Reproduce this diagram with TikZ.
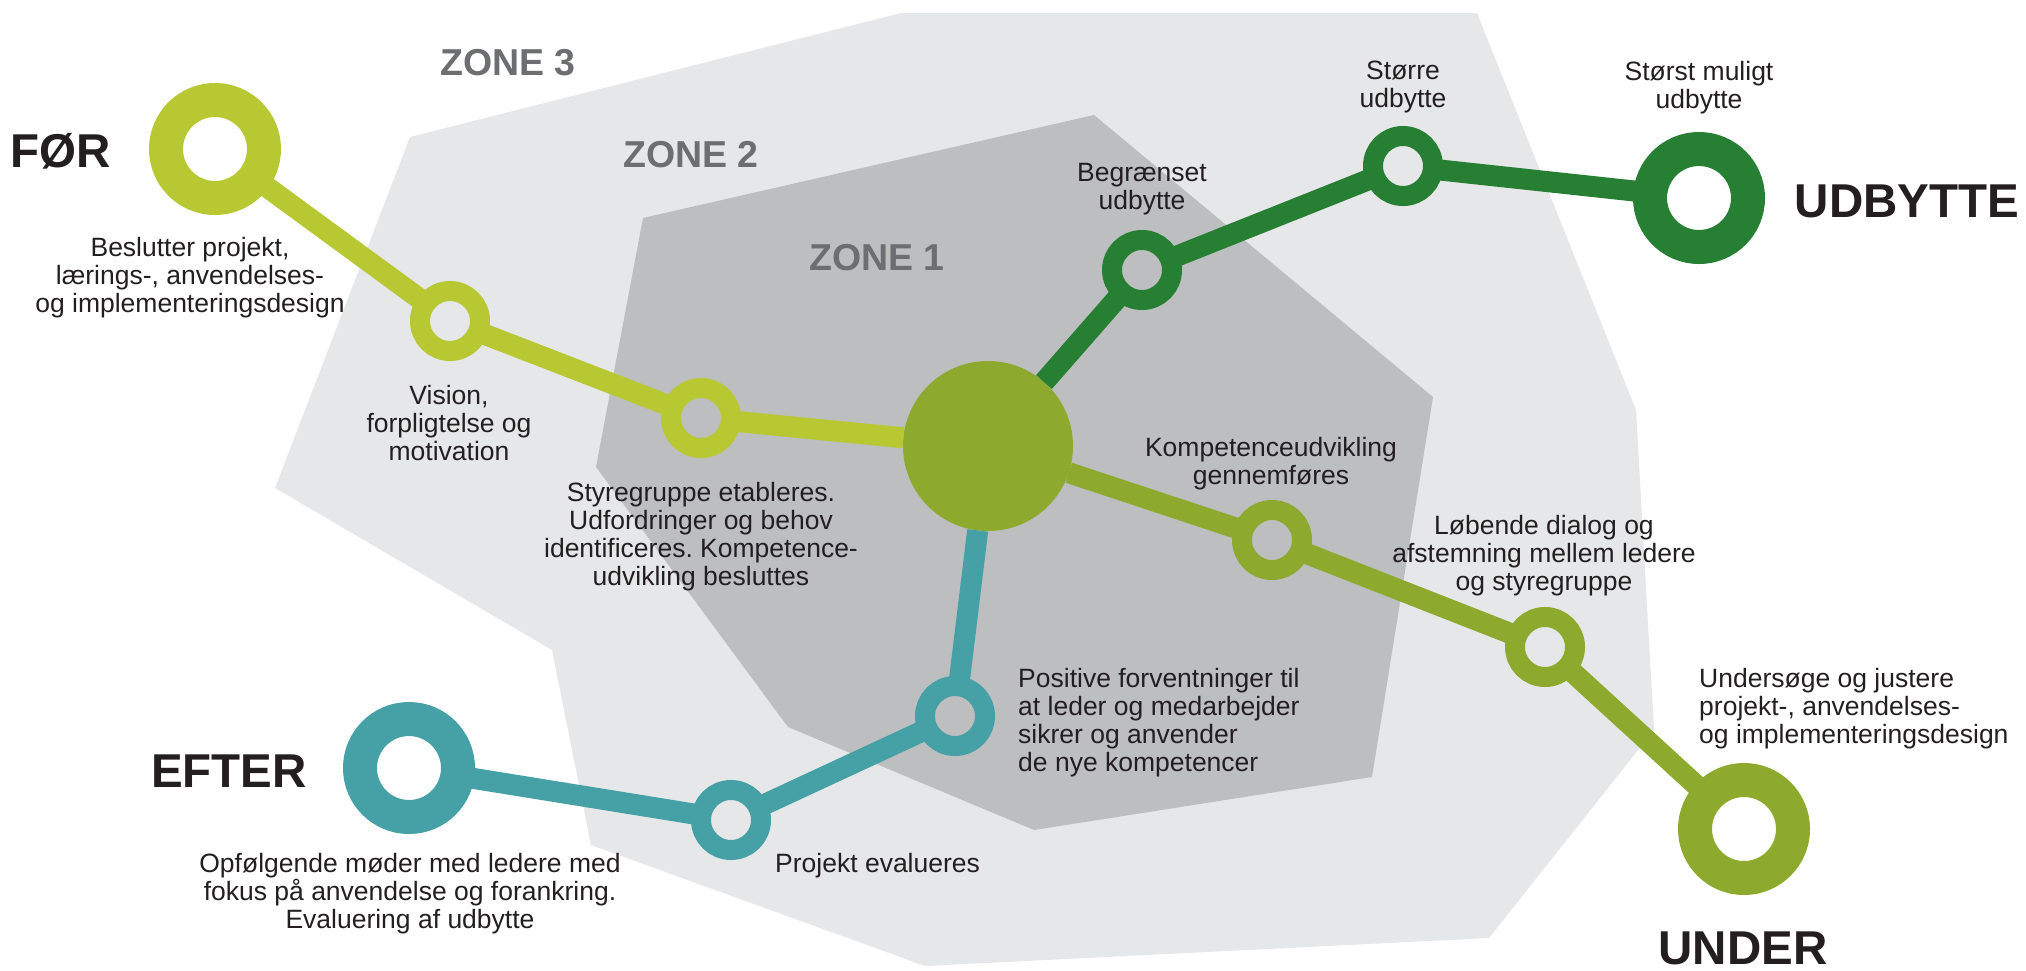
\documentclass[tikz,border=0pt]{standalone}
\usepackage{fontspec}
\setmainfont{Liberation Sans}
\frenchspacing

\definecolor{zonelight}{RGB}{230,231,232}
\definecolor{zonedark}{RGB}{188,190,192}
\definecolor{zonetext}{RGB}{109,110,113}
\definecolor{inktext}{RGB}{35,31,32}
\definecolor{limegreen}{RGB}{184,200,51}
\definecolor{olivegreen}{RGB}{141,170,47}
\definecolor{darkgreen}{RGB}{38,127,50}
\definecolor{tealblue}{RGB}{70,161,166}

\begin{document}
\begin{tikzpicture}[x=1pt, y=-1pt,
    smallring/.style={circle, draw=#1, line width=20pt, minimum size=60pt, inner sep=0pt, outer sep=0pt},
    bigring/.style={circle, draw=#1, line width=34pt, minimum size=98pt, inner sep=0pt, outer sep=0pt},
    hub/.style={circle, fill=olivegreen, minimum size=170pt, inner sep=0pt, outer sep=0pt},
    link/.style={draw=#1, line width=21pt}]
\useasboundingbox (0,0) rectangle (2026,970);

% zones
\fill[zonelight] (410,137) -- (901,13) -- (1477,13) -- (1636,410) -- (1654,730) -- (1489,938)
    -- (925,966) -- (591,845) -- (552,650) -- (275,488) -- cycle;
\fill[zonedark] (643,218) -- (1094,115) -- (1433,397) -- (1372,777) -- (1034,830)
    -- (788,727) -- (596,467) -- cycle;

\begin{scope}[every node/.style={font=\bfseries\fontsize{37.5}{40}\selectfont, text=zonetext, anchor=base, inner sep=0pt}]
    \node (zone3) at (508,75) {ZONE 3};
    \node (zone2) at (691,167) {ZONE 2};
    \node (zone1) at (877,270) {ZONE 1};
\end{scope}

\begin{scope}[]
    \node[bigring=limegreen] (foer) at (215,149) {};
    \node[smallring=limegreen] (vision) at (450,321) {};
    \node[smallring=limegreen] (styre) at (701,418) {};
    \node[hub] (hub) at (988,446) {};
    \node[smallring=darkgreen] (begr) at (1142,270) {};
    \node[smallring=darkgreen] (stoerre) at (1403,166) {};
    \node[bigring=darkgreen] (udbytte) at (1699,198) {};
    \node[smallring=olivegreen] (komp) at (1272,540) {};
    \node[smallring=olivegreen] (loeb) at (1545,647) {};
    \node[bigring=olivegreen] (under) at (1744,829) {};
    \node[smallring=tealblue] (posi) at (955,716) {};
    \node[smallring=tealblue] (proj) at (731,820) {};
    \node[bigring=tealblue] (efter) at (409,768) {};
\end{scope}

\begin{scope}[]
    \path [link=limegreen] (foer) edge (vision);
    \path [link=limegreen] (vision) edge (styre);
    \path [link=limegreen] (styre) edge (hub);
    \path [link=darkgreen] (hub) edge (begr);
    \path [link=darkgreen] (begr) edge (stoerre);
    \path [link=darkgreen] (stoerre) edge (udbytte);
    \path [link=olivegreen] (hub) edge (komp);
    \path [link=olivegreen] (komp) edge (loeb);
    \path [link=olivegreen] (loeb) edge (under);
    \path [link=tealblue] (hub) edge (posi);
    \path [link=tealblue] (posi) edge (proj);
    \path [link=tealblue] (proj) edge (efter);
\end{scope}

\begin{scope}[every node/.style={font=\bfseries\fontsize{47.5}{50}\selectfont, text=inktext, anchor=base, inner sep=0pt}]
    \node (lfoer) at (61,167) {FØR};
    \node (ludbytte) at (1907,217) {UDBYTTE};
    \node (lefter) at (229,787) {EFTER};
    \node (lunder) at (1743,964) {UNDER};
\end{scope}

\begin{scope}[every node/.style={font=\fontsize{26.5}{28}\selectfont, text=inktext, align=center, inner sep=0pt, anchor=north}]
    \node (tfoer) at (190,237) {Beslutter projekt,\\lærings-, anvendelses-\\og implementeringsdesign};
    \node (tvision) at (449,385) {Vision,\\forpligtelse og\\motivation};
    \node (tstyre) at (701,482) {Styregruppe etableres.\\Udfordringer og behov\\identificeres. Kompetence-\\udvikling besluttes};
    \node (tbegr) at (1142,163) {Begrænset\\udbytte};
    \node (tstoerre) at (1403,61) {Større\\udbytte};
    \node (tstoerst) at (1699,61) {Størst muligt\\udbytte};
    \node (tkomp) at (1271,437) {Kompetenceudvikling\\gennemføres};
    \node (tloeb) at (1544,515) {Løbende dialog og\\afstemning mellem ledere\\og styregruppe};
    \node[anchor=north west, align=left] (tunder) at (1699,668) {Undersøge og justere\\projekt-, anvendelses-\\og implementeringsdesign};
    \node[anchor=north west, align=left] (tposi) at (1018,668) {Positive forventninger til\\at leder og medarbejder\\sikrer og anvender\\de nye kompetencer};
    \node[anchor=north west] (tproj) at (775,853) {Projekt evalueres};
    \node (tefter) at (410,853) {Opfølgende møder med ledere med\\fokus på anvendelse og forankring.\\Evaluering af udbytte};
\end{scope}
\end{tikzpicture}
\end{document}
